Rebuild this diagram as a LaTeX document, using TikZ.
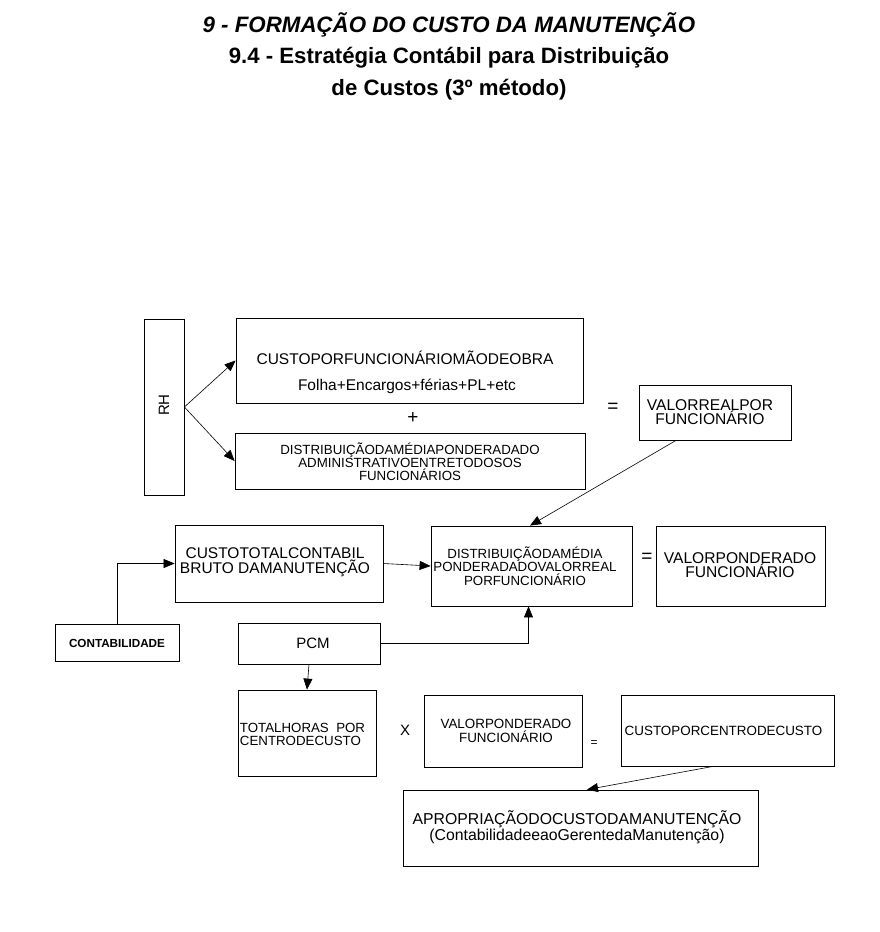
\documentclass[tikz,border=0pt]{standalone}
\usepackage{fontspec}
\setmainfont{Liberation Sans}
\usetikzlibrary{arrows.meta}
\begin{document}
\begin{tikzpicture}[x=1pt,y=-1pt,
  box/.style={draw, line width=0.8pt, inner sep=0pt, minimum width=#1},
  txt/.style={inner sep=0pt, align=center},
  arr/.style={line width=0.6pt, -{Triangle[length=11pt,width=9pt]}},
  ln/.style={line width=0.8pt}]
\useasboundingbox (0,0) rectangle (879,932);
% titles
\node[txt, font=\fontsize{22.3}{24}\selectfont\bfseries\itshape] (ti1) at (449,25) {9 - FORMAÇÃO DO CUSTO DA MANUTENÇÃO};
\node[txt, font=\fontsize{22.2}{24}\selectfont\bfseries] (ti2) at (449,58) {9.4 - Estratégia Contábil para Distribuição};
\node[txt, font=\fontsize{22.2}{24}\selectfont\bfseries] (ti3) at (449,90) {de Custos (3º método)};
% boxes
\node[box=40pt, minimum height=176pt] (rh) at (164,407) {};
\node[box=347pt, minimum height=85pt] (custo) at (409.5,360.5) {};
\node[box=350pt, minimum height=56pt] (distr) at (410,461) {};
\node[box=152pt, minimum height=55pt] (vreal) at (715,412.5) {};
\node[box=208pt, minimum height=77pt] (ctotal) at (279,563.5) {};
\node[box=201pt, minimum height=80pt] (dmedia) at (531.5,566) {};
\node[box=169pt, minimum height=80pt] (vpond) at (740.5,566) {};
\node[box=124pt, minimum height=37pt] (contab) at (117,642.5) {};
\node[box=142pt, minimum height=41pt] (pcm) at (309,643.5) {};
\node[box=138pt, minimum height=86pt] (thoras) at (307,733) {};
\node[box=158pt, minimum height=72pt] (vpond2) at (503,731) {};
\node[box=213pt, minimum height=71pt] (cpc) at (727.5,730.5) {};
\node[box=355pt, minimum height=76pt] (aprop) at (580.5,828) {};
% texts
\node[txt, rotate=90, font=\fontsize{15}{14}\selectfont] (trh) at (164,405) {RH};
\node[txt, font=\fontsize{15.5}{14}\selectfont] (t1) at (405,358) {CUSTOPORFUNCIONÁRIOMÃODEOBRA};
\node[txt, font=\fontsize{15.5}{13}\selectfont] (t2) at (407,386) {Folha+Encargos+férias+PL+etc};
\node[txt, font=\fontsize{19}{18}\selectfont] (plus) at (413,418) {+};
\node[txt, font=\fontsize{13.3}{13}\selectfont] (tdistr) at (410,462) {DISTRIBUIÇÃODAMÉDIAPONDERADADO\\ADMINISTRATIVOENTRETODOSOS\\FUNCIONÁRIOS};
\node[txt, font=\fontsize{19}{18}\selectfont] (eq1) at (613,408) {=};
\node[txt, font=\fontsize{15.6}{12.5}\selectfont] (tvreal) at (710,412) {VALORREALPOR\\FUNCIONÁRIO};
\node[txt, font=\fontsize{15.5}{13.5}\selectfont] (tctotal) at (275,562) {CUSTOTOTALCONTABIL\\BRUTO DAMANUTENÇÃO};
\node[txt, font=\fontsize{13.3}{13.5}\selectfont] (tdmedia) at (525,566) {DISTRIBUIÇÃODAMÉDIA\\PONDERADADOVALORREAL\\PORFUNCIONÁRIO};
\node[txt, font=\fontsize{19}{18}\selectfont] (eq2) at (647,558) {=};
\node[txt, font=\fontsize{15.6}{13.5}\selectfont] (tvpond) at (740,565) {VALORPONDERADO\\FUNCIONÁRIO};
\node[txt, font=\fontsize{11.7}{12}\selectfont\bfseries] (tcontab) at (117,643) {CONTABILIDADE};
\node[txt, font=\fontsize{15}{14}\selectfont] (tpcm) at (313,643) {PCM};
\node[txt, align=left, font=\fontsize{13.3}{13}\selectfont] (tthoras) at (302.5,734) {TOTALHORAS\ \ POR\\CENTRODECUSTO};
\node[txt, font=\fontsize{15}{14}\selectfont] (tx) at (405,730) {X};
\node[txt, font=\fontsize{13.4}{13.5}\selectfont] (tvpond2) at (506,731) {VALORPONDERADO\\FUNCIONÁRIO};
\node[txt, font=\fontsize{12}{10}\selectfont] (eq3) at (594,744) {=};
\node[txt, font=\fontsize{13.4}{13}\selectfont] (tcpc) at (723.5,731) {CUSTOPORCENTRODECUSTO};
\node[txt, font=\fontsize{15.8}{13.5}\selectfont] (taprop) at (577,827) {APROPRIAÇÃODOCUSTODAMANUTENÇÃO\\(ContabilidadeeaoGerentedaManutenção)};
% connectors
\draw[arr] (rh.east) -- (custo.west);
\draw[arr] (rh.east) -- (distr.west);
\draw[arr] ([xshift=-39pt]vreal.south) -- ([xshift=-1.5pt]dmedia.north);
\draw[arr] (contab.north) |- (ctotal.west);
\draw[arr] (ctotal.east) -- (dmedia.west);
\draw[arr] (pcm.east) -| ([xshift=-3pt]dmedia.south);
\draw[arr] (pcm.south) -- (thoras.north);
\draw[arr] ([xshift=-14.5pt]cpc.south) -- ([xshift=6.5pt]aprop.north);
\end{tikzpicture}
\end{document}
